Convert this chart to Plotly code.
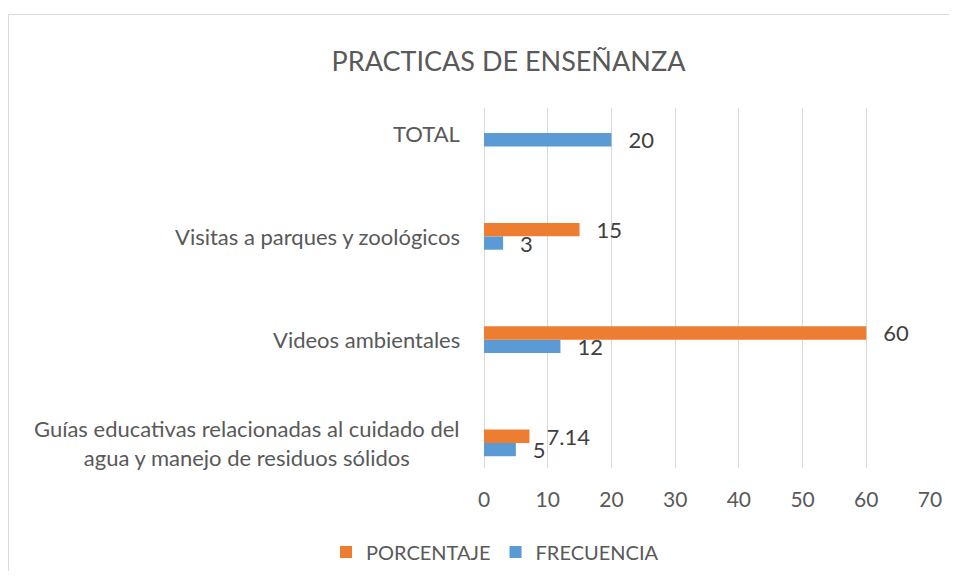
import plotly.graph_objects as go

categories = [
    "Guías educativas relacionadas al cuidado del<br>agua y manejo de residuos sólidos",
    "Videos ambientales",
    "Visitas a parques y zoológicos",
    "TOTAL",
]
frecuencia = [5, 12, 3, 20]
porcentaje = [7.14, 60, 15, None]
x_ticks = [0, 10, 20, 30, 40, 50, 60, 70]

FONT = "Lato"
TXT = "#595959"
ORANGE = "#ED7D31"
BLUE = "#5B9BD5"
FS = 22
PAD = "\u00a0\u00a0\u2009"

# page body has an 8px margin; work in figure coordinates and avoid page overflow
OFF = 8
W, H = 957 - 2 * OFF, 583 - 2 * OFF - 4
L, R, T, B = 484 - OFF, 930 - OFF, 108 - OFF, 468 - OFF

fig = go.Figure()
fig.add_trace(go.Bar(
    name="FRECUENCIA", y=categories, x=frecuencia, orientation="h",
    marker=dict(color=BLUE, line=dict(width=0)), texttemplate=PAD + "%{x}", textposition="outside",
    textfont=dict(family=FONT, size=FS, color="#404040"), constraintext="none",
    cliponaxis=False,
))
fig.add_trace(go.Bar(
    name="PORCENTAJE", y=categories, x=porcentaje, orientation="h",
    marker=dict(color=ORANGE, line=dict(width=0)), texttemplate=PAD + "%{x}", textposition="outside",
    textfont=dict(family=FONT, size=FS, color="#404040"), constraintext="none",
    cliponaxis=False,
))

for c in categories:
    fig.add_annotation(
        text=c, x=0, xref="paper", y=c, yref="y", xanchor="right", yanchor="middle",
        xshift=-22, align="center", showarrow=False,
        font=dict(family=FONT, size=FS, color=TXT),
    )

pw = R - L
ph = B - T
# chart border: top and left edges (right and bottom lie beyond the picture)
bx0 = (0.5 - L) / pw
by1 = (B - (14.5 - OFF)) / ph
fig.add_shape(type="line", xref="paper", yref="paper", x0=bx0, x1=(W - L) / pw, y0=by1, y1=by1,
              line=dict(color="#D9D9D9", width=1), layer="below")
fig.add_shape(type="line", xref="paper", yref="paper", x0=bx0, x1=bx0, y0=(B - H) / ph, y1=by1,
              line=dict(color="#D9D9D9", width=1), layer="below")

fig.update_layout(
    width=W, height=H,
    margin=dict(l=L, r=W - R, t=T, b=H - B, pad=0, autoexpand=False),
    paper_bgcolor="white", plot_bgcolor="white",
    barmode="group", bargap=0.742, bargroupgap=0,
    title=dict(text="PRACTICAS DE ENSEÑANZA", x=(508.5 - OFF) / W, xanchor="center",
               y=1 - (62 - OFF) / H, yanchor="middle", yref="container",
               font=dict(family=FONT, size=27, color=TXT)),
    font=dict(family=FONT, size=FS, color=TXT),
    xaxis=dict(range=[0, 70], tickvals=x_ticks, showgrid=True, gridcolor="#D9D9D9",
               gridwidth=1, zeroline=True, zerolinecolor="#D9D9D9", zerolinewidth=1,
               showline=False, ticks="", ticklabelstandoff=17,
               tickfont=dict(family=FONT, size=21, color=TXT), fixedrange=True),
    yaxis=dict(type="category", categoryorder="array", categoryarray=categories,
               range=[-0.243, 3.243], showticklabels=False, showgrid=False,
               zeroline=False, showline=False, ticks="", fixedrange=True),
    legend=dict(orientation="h", traceorder="reversed", x=(495 - OFF - L) / pw, xanchor="center",
                y=(B - (552 - OFF)) / ph, yanchor="middle",
                font=dict(family=FONT, size=20, color=TXT),
                itemwidth=30, bgcolor="rgba(0,0,0,0)"),
    showlegend=True,
)

fig.write_html("out.html")
